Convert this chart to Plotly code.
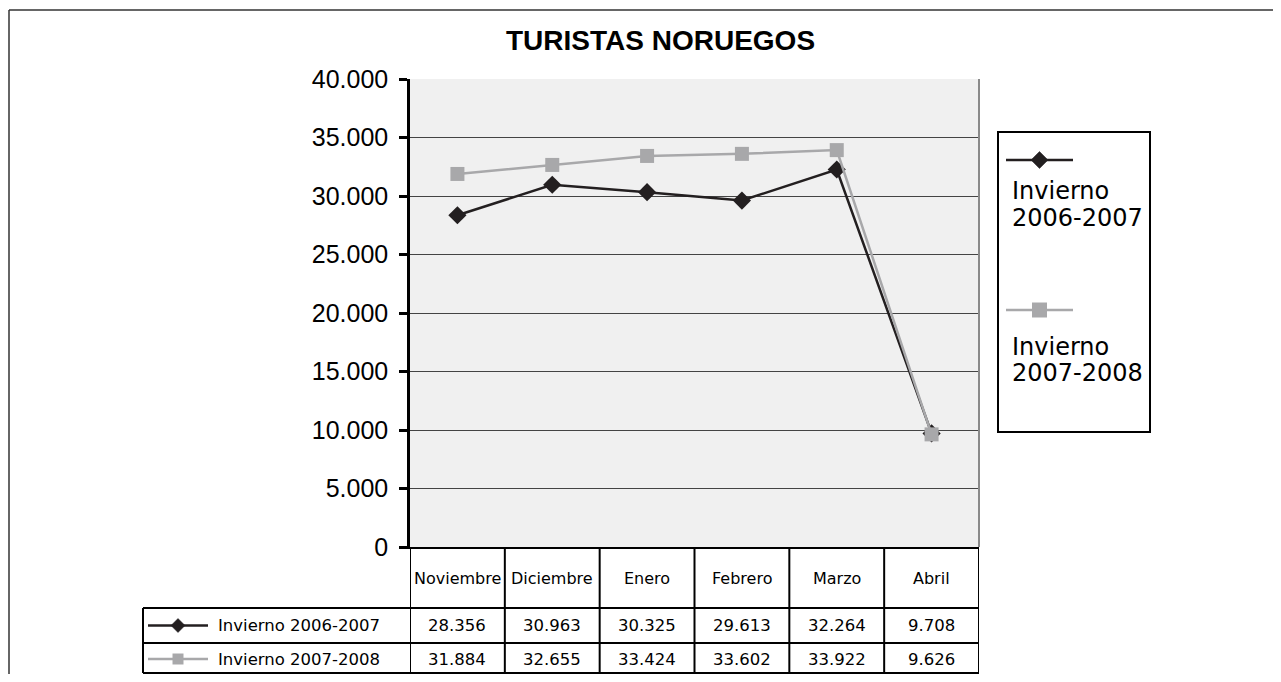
import plotly.graph_objects as go

# ---- data ----
categories = ["Noviembre", "Diciembre", "Enero", "Febrero", "Marzo", "Abril"]
series_names = ["Invierno 2006-2007", "Invierno 2007-2008"]
values_2006_2007 = [28356, 30963, 30325, 29613, 32264, 9708]
values_2007_2008 = [31884, 32655, 33424, 33602, 33922, 9626]
y_ticks = [0, 5000, 10000, 15000, 20000, 25000, 30000, 35000, 40000]
title_text = "TURISTAS NORUEGOS"

# ---- layout geometry (screen pixels) ----
OFF = 8                               # default page body margin
W, H = 1281 - 2 * OFF, 682 - 2 * OFF  # figure fits in the window without scrollbars
PL, PR, PT, PB = 410, 979, 79, 547   # plot area on screen


def px(x):
    return (x - PL) / (PR - PL)


def py(y):
    return (PB - y) / (PB - PT)


def fmt(v):
    return f"{v:,}".replace(",", ".")


BLACK = "#231f20"
GRAY = "#a8a8aa"
FONT_AX = "Liberation Sans, Arial, sans-serif"
FONT_TB = "DejaVu Sans, sans-serif"

fig = go.Figure()
fig.add_trace(go.Scatter(
    x=categories, y=values_2006_2007, name=series_names[0], mode="lines+markers",
    line=dict(color=BLACK, width=2.5),
    marker=dict(symbol="diamond", size=14, color=BLACK, line=dict(width=0)),
    showlegend=False))
fig.add_trace(go.Scatter(
    x=categories, y=values_2007_2008, name=series_names[1], mode="lines+markers",
    line=dict(color=GRAY, width=2.5),
    marker=dict(symbol="square", size=14, color=GRAY, line=dict(width=0)),
    showlegend=False))

shapes = []
annotations = []

# outer frame
shapes.append(dict(type="line", xref="paper", yref="paper", x0=px(9), x1=px(1300), y0=py(10), y1=py(10),
                   line=dict(color="#333333", width=1.5)))
shapes.append(dict(type="line", xref="paper", yref="paper", x0=px(9), x1=px(9), y0=py(10), y1=py(700),
                   line=dict(color="#333333", width=1.5)))

# right border of plot area
shapes.append(dict(type="line", xref="paper", yref="paper", x0=1, x1=1, y0=0, y1=1,
                   line=dict(color="#8a8a8a", width=2)))

# ---- data table ----
ROW1_TOP, ROW2_TOP, TB_BOT = 608, 643, 673
LINE = dict(color="black", width=2)
for i in range(len(categories) + 1):
    xb = i - 0.5
    shapes.append(dict(type="line", xref="x", yref="paper", x0=xb, x1=xb, y0=py(PB), y1=py(TB_BOT), line=LINE))
for yy in (ROW1_TOP, ROW2_TOP, TB_BOT):
    shapes.append(dict(type="line", xref="paper", yref="paper", x0=px(143), x1=1, y0=py(yy), y1=py(yy), line=LINE))
shapes.append(dict(type="line", xref="paper", yref="paper", x0=px(143), x1=px(143), y0=py(ROW1_TOP), y1=py(TB_BOT), line=LINE))

for i, c in enumerate(categories):
    annotations.append(dict(x=c, y=py(578), xref="x", yref="paper", text=c, showarrow=False,
                            font=dict(family=FONT_TB, size=16, color="black"), xanchor="center", yanchor="middle"))
rows_vals = [values_2006_2007, values_2007_2008]
row_centers = [(ROW1_TOP + ROW2_TOP) / 2, (ROW2_TOP + TB_BOT) / 2 + 1]
for vals, yc in zip(rows_vals, row_centers):
    for c, v in zip(categories, vals):
        annotations.append(dict(x=c, y=py(yc), xref="x", yref="paper", text=fmt(v), showarrow=False,
                                font=dict(family=FONT_TB, size=16.5, color="black"), xanchor="center", yanchor="middle"))


def diamond_path(cx, cy, r):
    return (f"M {px(cx)},{py(cy - r)} L {px(cx + r)},{py(cy)} L {px(cx)},{py(cy + r)} "
            f"L {px(cx - r)},{py(cy)} Z")


def legend_symbol(x0, x1, yc, kind, r, lw):
    color = BLACK if kind == "diamond" else GRAY
    shapes.append(dict(type="line", xref="paper", yref="paper", x0=px(x0), x1=px(x1), y0=py(yc), y1=py(yc),
                       line=dict(color=color, width=lw)))
    cx = (x0 + x1) / 2
    if kind == "diamond":
        shapes.append(dict(type="path", xref="paper", yref="paper", path=diamond_path(cx, yc, r),
                           fillcolor=color, line=dict(color=color, width=0.5)))
    else:
        shapes.append(dict(type="rect", xref="paper", yref="paper", x0=px(cx - r), x1=px(cx + r),
                           y0=py(yc + r), y1=py(yc - r), fillcolor=color, line=dict(width=0)))


# row legend keys
legend_symbol(148, 208, row_centers[0], "diamond", 7, 2.5)
legend_symbol(148, 208, row_centers[1], "square", 5.5, 2.5)
for name, yc in zip(series_names, row_centers):
    annotations.append(dict(x=px(216), y=py(yc), xref="paper", yref="paper", text=name, showarrow=False,
                            font=dict(family=FONT_TB, size=16.5, color="black"), xanchor="left", yanchor="middle"))

# ---- custom legend box ----
shapes.append(dict(type="rect", xref="paper", yref="paper", x0=px(998), x1=px(1150), y0=py(432), y1=py(132),
                   line=dict(color="black", width=2), fillcolor="rgba(0,0,0,0)"))
legend_symbol(1006, 1073, 160, "diamond", 8.5, 2.5)
legend_symbol(1006, 1073, 310, "square", 7.5, 2.5)
for name, (y1, y2) in zip(series_names, [(191, 218), (347, 373)]):
    w1, w2 = name.split(" ")
    annotations.append(dict(x=px(1010), y=py(y1), xref="paper", yref="paper", text=w1, showarrow=False,
                            font=dict(family=FONT_TB, size=24, color="black"), xanchor="left", yanchor="middle"))
    annotations.append(dict(x=px(1010), y=py(y2), xref="paper", yref="paper", text=w2, showarrow=False,
                            font=dict(family=FONT_TB, size=24, color="black"), xanchor="left", yanchor="middle"))

# title
annotations.append(dict(x=px(660), y=py(40), xref="paper", yref="paper", text=f"<b>{title_text}</b>",
                        showarrow=False, font=dict(family=FONT_AX, size=28, color="black"),
                        xanchor="center", yanchor="middle"))

fig.update_layout(
    width=W, height=H,
    margin=dict(l=PL - OFF, r=W - (PR - OFF), t=PT - OFF, b=H - (PB - OFF), pad=0),
    paper_bgcolor="white", plot_bgcolor="#f0f0f0",
    separators=",.",
    shapes=shapes, annotations=annotations,
    showlegend=False,
)
fig.update_xaxes(type="category", range=[-0.5, len(categories) - 0.5], showticklabels=False,
                 showgrid=False, zeroline=False, showline=True, linecolor="black", linewidth=2,
                 ticks="", fixedrange=True)
fig.update_yaxes(range=[0, 40000], tickvals=y_ticks, ticktext=[fmt(v) for v in y_ticks],
                 showgrid=True, gridcolor="#444444", gridwidth=1.3, zeroline=False,
                 showline=True, linecolor="black", linewidth=2.5,
                 ticks="outside", ticklen=8, tickwidth=3, tickcolor="black",
                 ticklabelstandoff=6,
                 tickfont=dict(family=FONT_AX, size=25, color="black"), fixedrange=True)

fig.write_html("out.html")
